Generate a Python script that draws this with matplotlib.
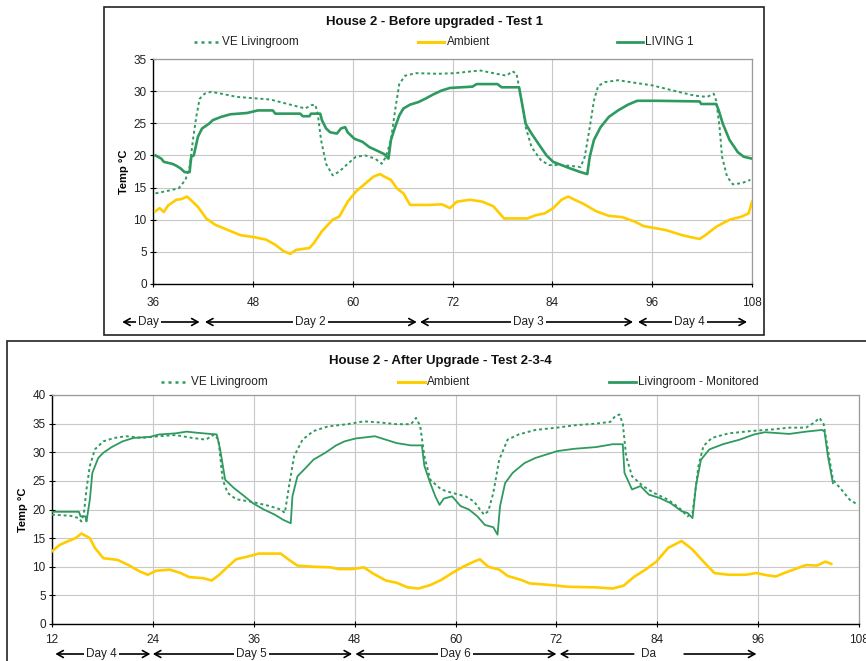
import matplotlib
matplotlib.use("Agg")
import matplotlib.pyplot as plt
from matplotlib.patches import Rectangle
from matplotlib.lines import Line2D

# ---------------- Test 1 (before upgrade) ----------------
t1_ve_hours = [36.3, 37.8, 39.1, 39.9, 40.4, 40.8, 41.2, 41.6, 42.2, 43.0, 44.6, 46.1, 48.1, 50.1,
               52.2, 54.3, 55.0, 55.5, 55.8, 56.2, 56.8, 57.6, 58.4, 59.4, 60.4, 61.5, 62.7, 63.5,
               64.0, 64.6, 65.1, 65.6, 66.3, 67.6, 70.2, 72.3, 74.4, 75.4, 76.9, 78.5, 79.2, 79.7,
               80.3, 80.8, 81.5, 82.6, 83.6, 85.1, 86.7, 87.4, 87.9, 88.5, 89.0, 89.5, 90.3, 91.9,
               93.4, 96.0, 98.5, 101.1, 102.6, 103.4, 103.7, 104.1, 104.4, 105.0, 105.7, 106.8, 107.8]
t1_ve_temp = [14.1, 14.5, 14.9, 16.2, 18.2, 22.4, 26.0, 28.8, 29.6, 29.9, 29.5, 29.1, 28.9, 28.7,
              28.0, 27.3, 27.8, 27.9, 26.5, 22.4, 18.7, 16.9, 17.5, 18.7, 19.8, 20.0, 19.5, 18.7,
              19.8, 22.4, 27.0, 31.1, 32.4, 32.8, 32.7, 32.8, 33.1, 33.2, 32.8, 32.4, 33.1, 32.7,
              28.5, 24.4, 21.3, 19.3, 18.5, 18.5, 18.3, 18.2, 19.8, 24.4, 28.5, 30.8, 31.4, 31.7,
              31.4, 30.9, 30.1, 29.3, 29.1, 29.6, 28.5, 24.4, 19.8, 16.7, 15.5, 15.7, 16.2]

t1_amb_hours = [36.3, 36.8, 37.3, 37.8, 38.8, 39.4, 40.1, 40.6, 41.4, 42.4, 43.5, 45.0, 46.5, 48.1,
                49.6, 50.7, 51.7, 52.5, 53.2, 54.8, 55.3, 56.3, 57.6, 58.4, 59.4, 60.4, 61.5, 62.5,
                63.3, 63.8, 64.6, 65.3, 66.1, 66.9, 69.2, 70.7, 71.7, 72.5, 74.1, 75.6, 76.9, 78.2,
                81.0, 82.0, 83.1, 84.1, 85.1, 85.9, 86.7, 87.7, 89.3, 90.8, 92.4, 93.9, 95.0, 96.3,
                97.6, 99.6, 100.6, 101.7, 102.4, 103.7, 105.3, 106.8, 107.6, 108.0]
t1_amb_temp = [11.3, 11.8, 11.2, 12.2, 13.1, 13.2, 13.6, 13.0, 12.0, 10.2, 9.2, 8.4, 7.6, 7.3,
               6.9, 6.1, 5.1, 4.7, 5.3, 5.6, 6.3, 8.2, 10.0, 10.5, 12.8, 14.4, 15.6, 16.7,
               17.1, 16.7, 16.2, 14.9, 14.1, 12.3, 12.3, 12.4, 11.8, 12.8, 13.1, 12.8, 12.1, 10.2,
               10.2, 10.7, 11.0, 11.8, 13.1, 13.6, 13.1, 12.5, 11.3, 10.6, 10.4, 9.7, 9.0, 8.7,
               8.4, 7.6, 7.3, 7.0, 7.6, 8.9, 10.0, 10.5, 11.0, 12.8]

t1_liv_hours = [36.3, 37.0, 37.3, 38.3, 38.8, 39.3, 39.8, 40.4, 40.6, 40.9, 41.4, 41.9, 42.7, 43.2,
                44.2, 45.3, 47.3, 48.6, 50.4, 50.7, 53.7, 54.0, 54.8, 55.0, 56.1, 56.3, 56.8, 57.3,
                58.1, 58.6, 59.1, 59.4, 60.2, 61.2, 62.0, 63.0, 63.8, 64.3, 64.6, 65.1, 65.6, 66.1,
                66.9, 67.9, 68.7, 69.7, 70.7, 71.7, 74.4, 74.9, 77.4, 77.9, 80.0, 80.3, 80.8, 81.5,
                82.6, 83.3, 84.1, 85.1, 86.1, 87.4, 88.2, 88.5, 89.0, 89.8, 90.8, 91.9, 93.1, 94.2,
                96.5, 101.7, 101.9, 103.7, 104.0, 104.5, 105.3, 106.3, 107.0, 108.0]
t1_liv_temp = [20.0, 19.5, 19.0, 18.7, 18.4, 18.0, 17.4, 17.4, 19.8, 20.0, 22.9, 24.2, 24.9, 25.5,
               26.0, 26.4, 26.6, 27.0, 27.0, 26.5, 26.5, 26.1, 26.1, 26.5, 26.5, 25.5, 24.2, 23.6,
               23.4, 24.2, 24.4, 23.6, 22.6, 22.1, 21.3, 20.7, 20.2, 19.5, 22.4, 24.4, 26.2, 27.3,
               27.9, 28.3, 28.8, 29.5, 30.1, 30.5, 30.7, 31.1, 31.1, 30.6, 30.6, 28.5, 24.9, 23.4,
               21.3, 20.0, 19.0, 18.5, 18.0, 17.4, 17.1, 19.8, 22.4, 24.4, 26.0, 27.0, 27.9, 28.5,
               28.5, 28.4, 28.0, 28.0, 27.0, 24.9, 22.4, 20.5, 19.8, 19.5]

# ---------------- Tests 2-3-4 (after upgrade) ----------------
t2_ve_hours = [12.0, 14.2, 15.2, 15.5, 15.8, 16.1, 16.5, 17.1, 18.1, 19.4, 20.8, 22.7, 24.7, 26.7,
               28.7, 30.3, 31.3, 31.8, 32.3, 32.9, 33.9, 35.9, 37.9, 39.2, 39.7, 40.2, 40.8, 41.8,
               43.1, 44.8, 47.1, 49.1, 51.0, 53.0, 54.7, 55.3, 55.8, 56.3, 57.0, 58.3, 59.6, 61.2,
               62.2, 62.9, 63.4, 63.9, 64.5, 65.2, 66.2, 67.5, 69.5, 72.1, 74.1, 76.7, 78.4, 79.0,
               79.5, 79.9, 80.3, 81.0, 82.3, 83.6, 85.3, 86.6, 87.6, 88.2, 88.9, 89.5, 90.5, 92.5,
               95.1, 97.8, 99.7, 101.7, 102.7, 103.3, 103.8, 104.3, 104.9, 105.9, 106.9, 107.9]
t2_ve_temp = [19.1, 18.9, 18.5, 17.9, 19.4, 23.5, 27.6, 30.5, 31.9, 32.5, 32.8, 32.5, 32.8, 33.0,
              32.5, 32.2, 33.1, 32.2, 25.2, 22.9, 21.8, 21.3, 20.6, 20.0, 19.4, 24.1, 29.3, 32.2,
              33.7, 34.5, 34.9, 35.4, 35.2, 34.9, 34.9, 36.0, 34.6, 29.3, 25.2, 23.5, 22.9, 22.3,
              21.4, 20.0, 19.1, 19.7, 22.9, 28.7, 32.2, 33.1, 33.9, 34.3, 34.7, 35.0, 35.3, 36.3,
              36.6, 35.0, 29.3, 25.8, 24.1, 22.9, 21.7, 20.3, 18.8, 19.4, 27.6, 31.1, 32.5, 33.3,
              33.7, 34.0, 34.3, 34.3, 35.2, 36.0, 34.9, 30.5, 25.2, 23.5, 21.7, 20.8]

t2_amb_hours = [12.0, 12.9, 13.8, 14.8, 15.5, 16.5, 17.1, 18.1, 19.8, 21.1, 22.4, 23.4, 24.4, 26.0,
                27.3, 28.3, 30.0, 31.0, 31.9, 32.9, 33.9, 35.6, 36.6, 39.2, 40.2, 41.2, 43.1, 45.1,
                46.1, 47.7, 49.1, 50.1, 51.7, 53.0, 54.3, 55.6, 57.0, 58.3, 59.6, 60.9, 62.2, 62.9,
                63.9, 65.2, 66.2, 67.8, 68.8, 71.4, 73.4, 76.7, 78.7, 80.0, 81.3, 82.6, 83.9, 85.3,
                86.9, 88.2, 89.5, 90.8, 92.5, 94.5, 95.8, 97.1, 98.1, 99.1, 100.4, 101.7, 103.0,
                104.0, 104.7]
t2_amb_temp = [12.7, 13.8, 14.4, 15.0, 15.8, 15.0, 13.3, 11.5, 11.2, 10.3, 9.2, 8.6, 9.3, 9.5,
               8.9, 8.2, 8.0, 7.6, 8.6, 10.0, 11.3, 11.9, 12.3, 12.3, 11.2, 10.2, 10.0, 9.9,
               9.6, 9.6, 9.9, 8.9, 7.6, 7.2, 6.4, 6.2, 6.8, 7.7, 8.9, 10.0, 10.9, 11.3,
               10.0, 9.5, 8.4, 7.7, 7.1, 6.8, 6.5, 6.4, 6.2, 6.7, 8.3, 9.5, 10.9, 13.3,
               14.5, 13.0, 10.9, 8.9, 8.6, 8.6, 8.9, 8.5, 8.3, 8.9, 9.6, 10.3, 10.2,
               10.9, 10.5]

t2_mon_hours = [12.0, 15.2, 15.4, 16.0, 16.1, 16.5, 16.8, 17.5, 18.1, 19.1, 20.4, 21.7, 23.7, 24.7,
                26.7, 28.0, 29.3, 31.6, 32.0, 32.6, 33.6, 34.9, 35.9, 37.2, 38.5, 39.5, 40.4, 40.6,
                41.2, 42.2, 43.1, 44.5, 45.8, 46.8, 48.1, 50.4, 51.7, 53.0, 54.7, 56.0, 56.3, 57.0,
                57.6, 58.1, 58.6, 59.6, 60.6, 61.6, 62.6, 63.5, 64.5, 65.0, 65.3, 65.9, 66.8, 68.2,
                69.5, 70.8, 72.1, 74.1, 76.7, 78.7, 79.9, 80.1, 81.0, 82.0, 83.0, 84.3, 85.6, 86.9,
                87.6, 88.2, 88.6, 89.2, 90.2, 91.8, 93.8, 95.5, 96.8, 99.7, 101.7, 103.6, 103.9,
                104.3, 104.9]
t2_mon_temp = [19.6, 19.6, 18.8, 18.8, 17.9, 21.7, 26.4, 29.0, 29.9, 30.9, 31.9, 32.5, 32.7, 33.1,
               33.3, 33.6, 33.4, 33.1, 30.5, 25.2, 23.8, 22.3, 21.1, 20.0, 19.1, 18.2, 17.6, 22.3,
               25.8, 27.3, 28.7, 29.9, 31.2, 31.9, 32.4, 32.8, 32.2, 31.6, 31.2, 31.2, 27.6, 24.6,
               22.3, 20.8, 21.9, 22.3, 20.6, 20.0, 18.8, 17.3, 16.9, 15.6, 20.6, 24.6, 26.4, 28.1,
               29.0, 29.6, 30.2, 30.6, 30.9, 31.4, 31.4, 26.4, 23.5, 24.1, 22.6, 22.0, 21.1, 19.7,
               19.4, 18.5, 24.1, 28.7, 30.5, 31.4, 32.2, 33.1, 33.5, 33.2, 33.6, 33.9, 33.6,
               29.3, 24.6]

# Day spans below each time axis: (start hour, end hour, label, label hour)
t1_days = [(32.3, 41.6, "Day", 35.5), (42.25, 67.7, "Day 2", 54.9),
           (68.1, 93.7, "Day 3", 81.1), (94.3, 107.4, "Day 4", 100.5)]
t2_days = [(12.4, 23.7, "Day 4", 17.9), (24.0, 47.7, "Day 5", 35.7),
           (48.1, 72.0, "Day 6", 60.0)]

t1_xticks = [36, 48, 60, 72, 84, 96, 108]
t2_xticks = [12, 24, 36, 48, 60, 72, 84, 96, 108]

GREEN = "#2f9a5f"
YELLOW = "#ffcc00"
GRID = "#c8c8c8"
TXT_FONT = ["Liberation Sans", "DejaVu Sans"]

W, H = 866, 661
fig = plt.figure(figsize=(W / 100, H / 100), dpi=100)
fig.patch.set_facecolor("white")


def fx(px):
    return px / W


def fy(py):
    return 1 - py / H


# Outer frames of the two chart objects
fig.add_artist(Rectangle((fx(104), fy(335)), fx(764) - fx(104), fy(7) - fy(335),
                         transform=fig.transFigure, fill=False, edgecolor="#222222", lw=1.2))
fig.add_artist(Rectangle((fx(7), -0.05), 1.2, fy(341) + 0.05,
                         transform=fig.transFigure, fill=False, edgecolor="#222222", lw=1.2))


def style_axes(ax, xmin, xmax, ymax, xticks, xpad):
    ax.set_xlim(xmin, xmax)
    ax.set_ylim(0, ymax)
    ax.set_xticks(xticks)
    ax.set_yticks(range(0, ymax + 1, 5))
    ax.grid(True, color=GRID, lw=0.8)
    ax.set_axisbelow(True)
    for side in ("top", "right"):
        ax.spines[side].set_color("#9a9a9a")
        ax.spines[side].set_linewidth(0.9)
    for side in ("left", "bottom"):
        ax.spines[side].set_color("black")
        ax.spines[side].set_linewidth(1.0)
    ax.tick_params(axis="both", direction="inout", length=5, width=0.8, colors="black")
    ax.tick_params(axis="x", pad=xpad)
    ax.tick_params(axis="y", pad=2)
    for lab in ax.get_xticklabels() + ax.get_yticklabels():
        lab.set_family(TXT_FONT)
        lab.set_fontsize(8.5)
        lab.set_color("#222222")
    ax.set_ylabel("Temp °C", fontsize=8, fontweight="bold", family=TXT_FONT, labelpad=4)


def legend_row(ypx, entries):
    for (x0, x1, tx, label, kind) in entries:
        if kind == "dot":
            ln = Line2D([fx(x0), fx(x1)], [fy(ypx), fy(ypx)], transform=fig.transFigure,
                        color=GREEN, lw=1.8, linestyle=(0, (1.2, 1.6)))
        elif kind == "amb":
            ln = Line2D([fx(x0), fx(x1)], [fy(ypx), fy(ypx)], transform=fig.transFigure,
                        color=YELLOW, lw=2.2)
        else:
            ln = Line2D([fx(x0), fx(x1)], [fy(ypx), fy(ypx)], transform=fig.transFigure,
                        color=GREEN, lw=2.0)
        fig.add_artist(ln)
        fig.text(fx(tx), fy(ypx), label, ha="left", va="center", fontsize=8.5,
                 family=TXT_FONT, color="#222222")


def day_arrows(ax, spans, yfrac):
    tr = ax.get_xaxis_transform()
    for (a, b, label, xm) in spans:
        ax.annotate("", xy=(b, yfrac), xytext=(a, yfrac), xycoords=tr, textcoords=tr,
                    arrowprops=dict(arrowstyle="<->,head_length=0.45,head_width=0.25",
                                    color="black", lw=1.2, shrinkA=0, shrinkB=0),
                    annotation_clip=False)
        ax.text(xm, yfrac, label, transform=tr, ha="center", va="center", fontsize=8.5,
                family=TXT_FONT, color="#222222", clip_on=False,
                bbox=dict(facecolor="white", edgecolor="none", pad=1.5))


# ---------------- Top chart ----------------
ax1 = fig.add_axes([fx(153), fy(284), fx(752) - fx(153), fy(59) - fy(284)])
ax1.plot(t1_amb_hours, t1_amb_temp, color=YELLOW, lw=1.9, zorder=3)
ax1.plot(t1_liv_hours, t1_liv_temp, color=GREEN, lw=1.9, zorder=4)
ax1.plot(t1_ve_hours, t1_ve_temp, color=GREEN, lw=1.4, linestyle=(0, (1.5, 1.5)), zorder=5)
style_axes(ax1, 36, 108, 35, t1_xticks, 7)
ax1.yaxis.set_label_coords(-0.04, 0.5)
fig.text(fx(434), fy(22), "House 2 - Before upgraded - Test 1", ha="center", va="center",
         fontsize=9.5, fontweight="bold", family=TXT_FONT, color="#111111")
legend_row(42, [(194, 219, 222, "VE Livingroom", "dot"),
                (418, 444, 447, "Ambient", "amb"),
                (617, 643, 645, "LIVING 1", "solid")])
day_arrows(ax1, t1_days, (284 - 322) / 225)

# ---------------- Bottom chart ----------------
ax2 = fig.add_axes([fx(52), fy(624), fx(859) - fx(52), fy(395) - fy(624)])
ax2.plot(t2_amb_hours, t2_amb_temp, color=YELLOW, lw=1.9, zorder=3)
ax2.plot(t2_mon_hours, t2_mon_temp, color=GREEN, lw=1.3, zorder=4)
ax2.plot(t2_ve_hours, t2_ve_temp, color=GREEN, lw=1.4, linestyle=(0, (1.5, 1.5)), zorder=5)
style_axes(ax2, 12, 108, 40, t2_xticks, 5)
ax2.yaxis.set_label_coords(-0.03, 0.5)
fig.text(fx(440), fy(361), "House 2 - After Upgrade - Test 2-3-4", ha="center", va="center",
         fontsize=9.5, fontweight="bold", family=TXT_FONT, color="#111111")
legend_row(382, [(161, 188, 191, "VE Livingroom", "dot"),
                 (398, 425, 427, "Ambient", "amb"),
                 (609, 636, 638, "Livingroom - Monitored", "solid")])
yb = (624 - 654) / 229
day_arrows(ax2, t2_days, yb)
# last span: label box cut short, two separate arrow halves
tr2 = ax2.get_xaxis_transform()
ax2.annotate("", xy=(72.4, yb), xytext=(81.2, yb), xycoords=tr2, textcoords=tr2,
             arrowprops=dict(arrowstyle="->,head_length=0.45,head_width=0.25", color="black",
                             lw=1.2, shrinkA=0, shrinkB=0), annotation_clip=False)
ax2.annotate("", xy=(95.8, yb), xytext=(87.2, yb), xycoords=tr2, textcoords=tr2,
             arrowprops=dict(arrowstyle="->,head_length=0.45,head_width=0.25", color="black",
                             lw=1.2, shrinkA=0, shrinkB=0), annotation_clip=False)
ax2.text(83.0, yb, "Da", transform=tr2, ha="center", va="center", fontsize=8.5,
         family=TXT_FONT, color="#222222", clip_on=False)

fig.savefig("out.png", dpi=100, facecolor="white")
